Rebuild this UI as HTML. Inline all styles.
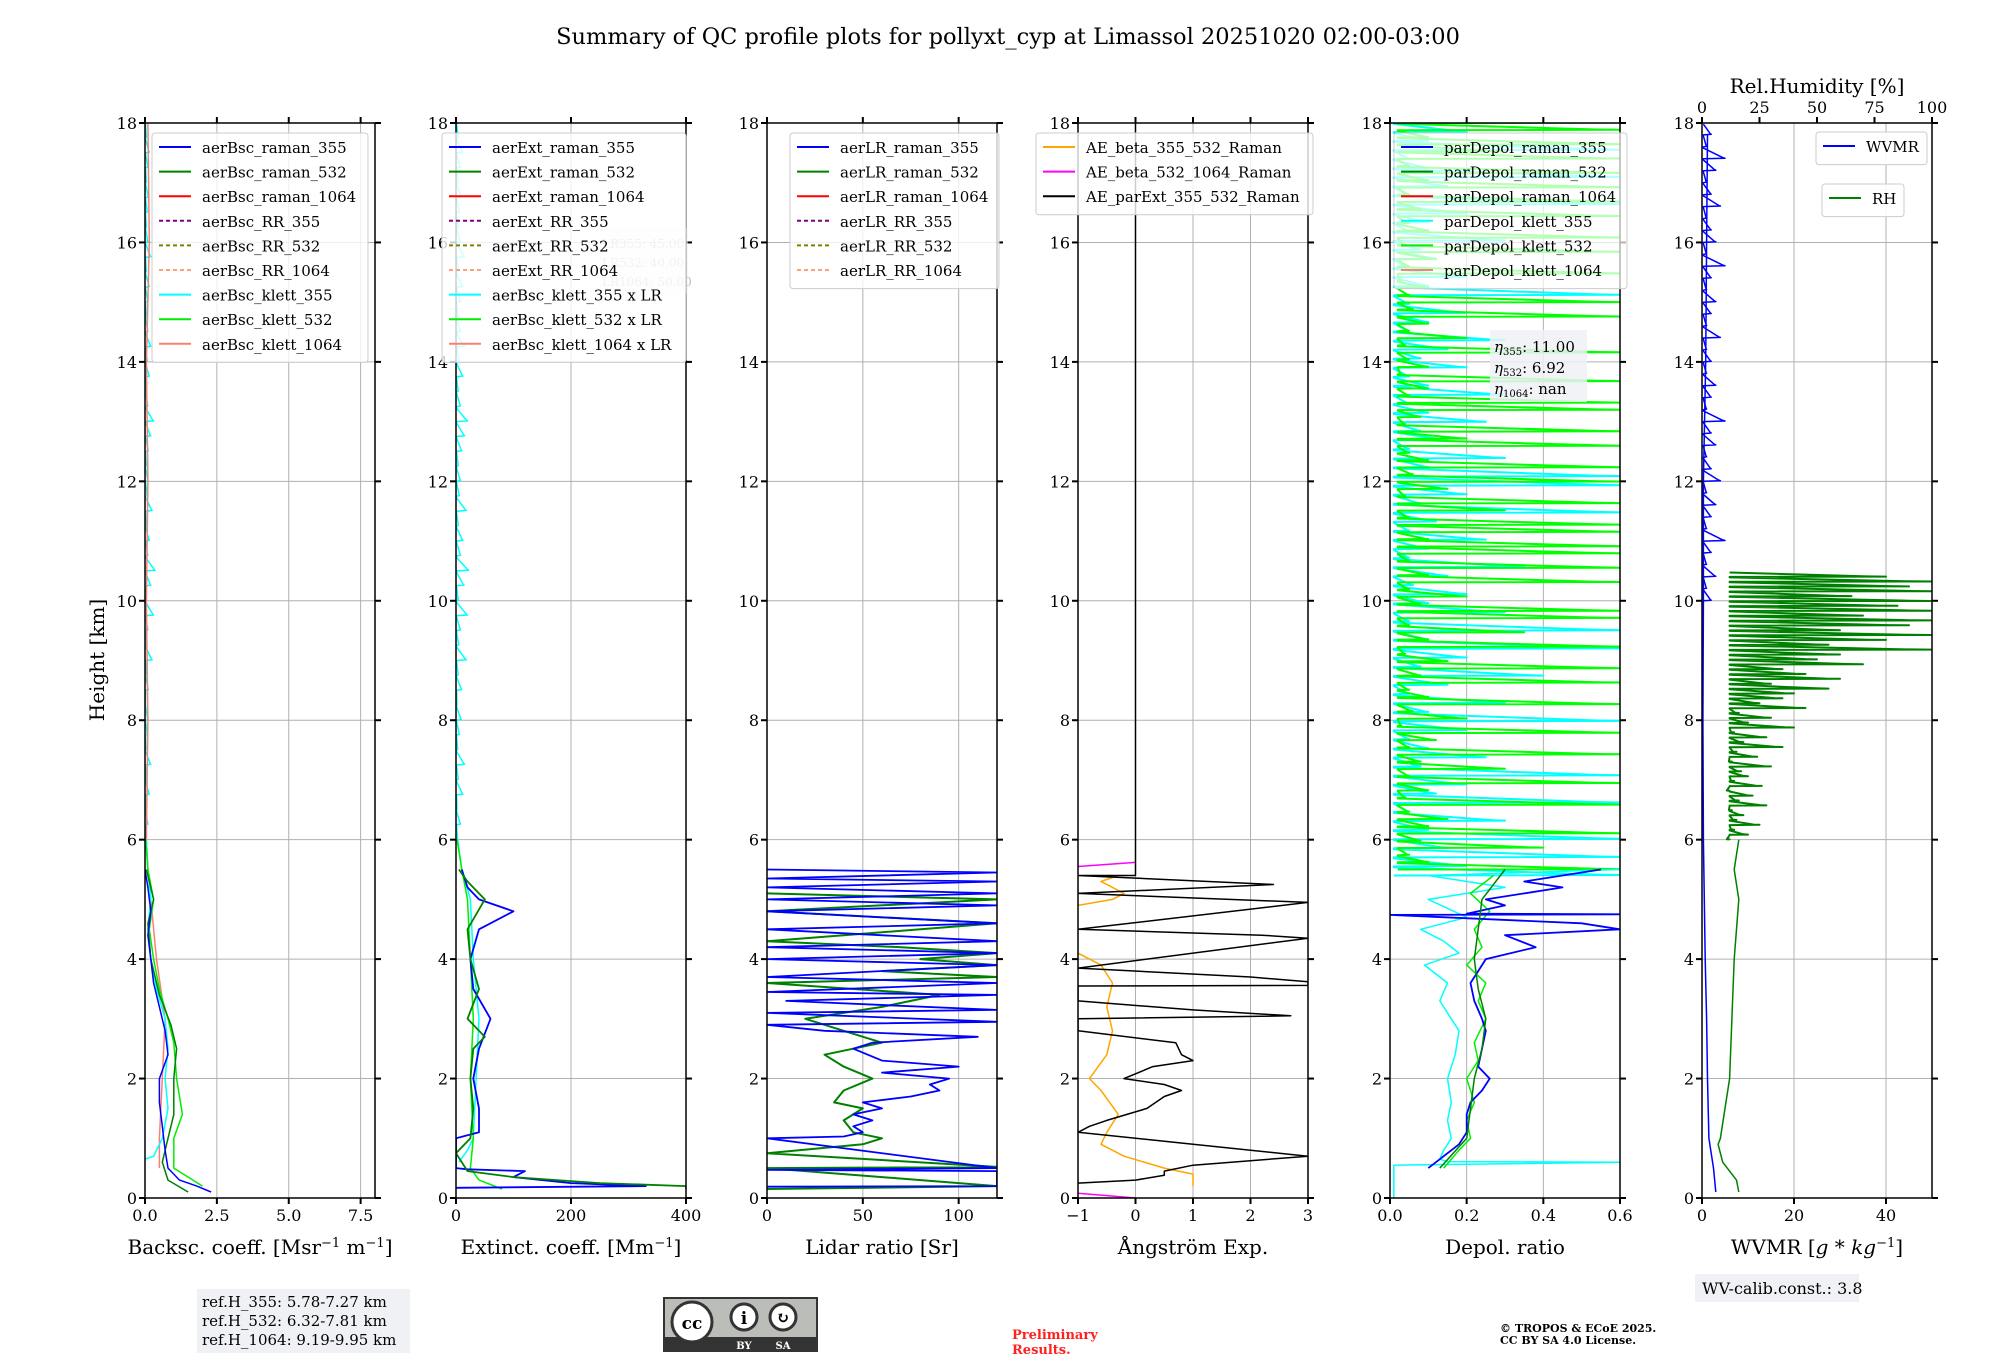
<!DOCTYPE html>
<html><head><meta charset="utf-8"><style>
body{margin:0;background:#fff;}
svg text{font-family:"DejaVu Serif","Liberation Serif",serif;}
</style></head><body>
<svg id="fig" width="2000" height="1360" xmlns="http://www.w3.org/2000/svg">
<rect width="2000" height="1360" fill="#fff"/>
<text x="1008" y="44" font-size="22.5" text-anchor="middle">Summary of QC profile plots for pollyxt_cyp at Limassol 20251020 02:00-03:00</text>
<text transform="translate(104,660) rotate(-90)" font-size="20" text-anchor="middle">Height [km]</text>
<g id="plots"></g>
<g>
<rect x="197" y="1289" width="213" height="64" fill="#eff1f5"/>
<text x="202" y="1307" font-size="15">ref.H_355: 5.78-7.27 km</text>
<text x="202" y="1326" font-size="15">ref.H_532: 6.32-7.81 km</text>
<text x="202" y="1345" font-size="15">ref.H_1064: 9.19-9.95 km</text>
</g>
<g>
<rect x="663" y="1297" width="155" height="55" fill="#333"/>
<rect x="665" y="1299" width="151" height="38" fill="#bbbdb8"/>
<circle cx="692" cy="1322" r="20" fill="#fff" stroke="#333" stroke-width="3"/>
<text x="692" y="1329" font-size="17" font-weight="bold" text-anchor="middle" font-family="Liberation Sans">cc</text>
<circle cx="744" cy="1317" r="13" fill="#fff" stroke="#333" stroke-width="3"/>
<circle cx="783" cy="1317" r="13" fill="#fff" stroke="#333" stroke-width="3"/>
<text x="744" y="1324" font-size="17" font-weight="bold" text-anchor="middle" font-family="Liberation Sans">i</text>
<text x="783" y="1323" font-size="16" font-weight="bold" text-anchor="middle" font-family="Liberation Sans">↻</text>
<text x="744" y="1349" font-size="10" fill="#fff" text-anchor="middle" font-family="Liberation Sans" font-weight="bold">BY</text>
<text x="783" y="1349" font-size="10" fill="#fff" text-anchor="middle" font-family="Liberation Sans" font-weight="bold">SA</text>
</g>
<text x="1012" y="1339" font-size="13" font-weight="bold" fill="#ff2020">Preliminary</text>
<text x="1012" y="1354" font-size="13" font-weight="bold" fill="#ff2020">Results.</text>
<text x="1500" y="1332" font-size="11" font-weight="bold">© TROPOS &amp; ECoE 2025.</text>
<text x="1500" y="1344" font-size="11" font-weight="bold">CC BY SA 4.0 License.</text>
<g>
<rect x="1695" y="1274" width="164" height="28" fill="#eff1f5"/>
<text x="1702" y="1294" font-size="16">WV-calib.const.: 3.8</text>
</g>
</svg>
<script>
// ---------- DATA ----------
const yTicks=[0,2,4,6,8,10,12,14,16,18];
const bscTicks=[0,2.5,5,7.5], bscTickLabels=["0.0","2.5","5.0","7.5"];
const extTicks=[0,200,400];
const lrTicks=[0,50,100];
const aeTicks=[-1,0,1,2,3], aeTickLabels=["−1","0","1","2","3"];
const depTicks=[0,0.2,0.4,0.6], depTickLabels=["0.0","0.2","0.4","0.6"];
const wvTicks=[0,20,40];
const rhTicks=[0,25,50,75,100];

// panel 1 backscatter
const bsc355H=[0.1,0.2,0.3,0.5,0.8,1.2,1.6,2.0,2.4,2.8,3.2,3.6,4.0,4.4,4.8,5.2,5.5];
const bsc355V=[2.3,1.8,1.2,0.8,0.7,0.6,0.5,0.5,0.8,0.7,0.5,0.3,0.2,0.1,0.2,0.1,0.0];
const bsc532H=[0.1,0.3,0.6,1.0,1.4,2.0,2.5,2.9,3.4,4.0,4.6,5.0,5.5];
const bsc532V=[1.5,0.8,0.6,0.8,1.0,1.0,1.1,0.9,0.5,0.2,0.1,0.3,0.05];
const bscK532H=[0.2,0.5,1.0,1.4,2.0,2.6,3.0,3.5,4.0,4.5,5.0,5.5,6.0];
const bscK532V=[2.0,1.0,1.0,1.3,1.1,1.0,0.8,0.5,0.3,0.15,0.3,0.1,0.02];
const bscK355H=[0.6,0.7,1.0,1.5,2.0,2.5,3.0,3.5,4.0,4.5,5.0,5.5,6.0];
const bscK355V=[-0.3,0.3,0.6,0.8,0.7,0.8,0.7,0.4,0.2,0.1,0.2,0.1,0.05];
const bscK1064H=[0.5,1.0,2.0,3.0,4.0,5.0,5.5,6,8,10,12,14,16,18];
const bscK1064V=[0.5,0.5,0.6,0.7,0.4,0.2,0.1,0.05,0.1,0.05,0.1,0.05,0.15,0.1];
const bscK355Noise=[0.05,0.1,0.03,0.15,0.05,0.2,0.04,0.08,0.1,0.02,0.12,0.05,0.25,0.06,0.1,0.3,0.05,0.2,0.35,0.1,0.15,0.05,0.25,0.08,0.1,0.05,0.12,0.2,0.3,0.1,0.05,0.15,0.08,0.2,0.1,0.05,0.1,0.15,0.05,0.2,0.1,0.05,0.08,0.12,0.05,0.1,0.15,0.05,0.1];

// panel 2 extinction
const ext355H=[0.17,0.2,0.25,0.35,0.45,0.48,0.5,1.0,1.1,1.5,2.0,2.5,3.0,3.5,4.0,4.5,4.8,5.0,5.2,5.5];
const ext355V=[0,330,200,100,120,20,0,0,40,40,30,40,60,30,25,40,100,40,20,10];
const ext532H=[0.15,0.2,0.25,0.35,0.45,0.75,1.0,1.5,2.0,2.5,2.7,3.0,3.5,4.0,4.5,5.0,5.3,5.5];
const ext532V=[400,400,250,100,20,0,25,30,25,30,50,20,40,25,20,50,20,5];
const extK532H=[0.15,0.3,0.5,1.0,2.0,3.0,4.0,5.0,5.5,6.0];
const extK532V=[80,40,25,30,25,30,25,20,10,2];
const extK355H=[0.6,0.8,1.0,2.0,3.0,4.0,5.0,5.5,6.0];
const extK355V=[5,20,30,35,40,30,25,10,3];
const extK355Noise=[3,8,2,12,4,15,3,6,9,2,10,4,18,5,8,20,4,14,22,8,12,4,18,6,8,4,10,15,20,8,4,12,6,15,8,4,8,12,4,15,8,4,6,10,4,8,12,4,8];

// panel 3 lidar ratio
const lr355H=[0.19,0.2,0.45,0.47,0.5,1.0,1.03,1.1,1.2,1.3,1.4,1.5,1.6,1.7,1.8,1.9,2.0,2.1,2.2,2.3,2.5,2.6,2.7,2.8,2.9,2.95,3.1,3.15,3.3,3.4,3.45,3.6,3.7,3.9,4.0,4.1,4.2,4.3,4.5,4.6,4.8,4.9,5.0,5.1,5.2,5.3,5.35,5.45,5.5];
const lr355V=[0,120,120,0,120,0,40,50,45,55,45,60,50,75,90,85,95,60,100,60,45,55,110,30,0,120,0,120,10,120,0,120,0,120,0,120,0,120,0,120,0,120,0,120,0,120,0,120,0];
const lr532H=[0.15,0.2,0.5,0.52,0.75,0.9,1.0,1.1,1.3,1.5,1.6,1.8,2.0,2.2,2.4,2.6,2.8,3.0,3.2,3.4,3.6,3.7,3.8,3.9,4.0,4.1,4.2,4.3,4.6,4.8,5.0,5.1];
const lr532V=[0,120,0,120,0,50,60,45,40,50,35,40,55,40,30,60,40,20,60,90,0,120,60,120,80,120,70,0,120,0,120,0];

// panel 4 angstrom
const aeBetaH=[0.2,0.4,0.5,0.7,0.9,1.1,1.4,1.8,2.0,2.4,2.8,3.2,3.6,3.9,4.0,4.1];
const aeBetaV=[1.0,1.0,0.5,-0.2,-0.6,-0.5,-0.3,-0.6,-0.8,-0.5,-0.4,-0.5,-0.4,-0.6,-0.8,-1.0];
const aeBeta2H=[4.9,5.0,5.1,5.2,5.3,5.4];
const aeBeta2V=[-1.0,-0.4,-0.2,-0.4,-0.6,-0.3];
const aeB1064H=[0.08,0.0];
const aeB1064V=[-1,0];
const aeB1064bH=[5.55,5.62];
const aeB1064bV=[-1,0];
const aeExtH=[0.25,0.3,0.38,0.45,0.55,0.7,1.1,1.2,1.3,1.5,1.7,1.8,1.9,2.0,2.2,2.3,2.4,2.6,2.8,3.0,3.05,3.15,3.3,3.55,3.56,3.62,3.7,3.85,4.35,4.4,4.5,4.95,5.1,5.25,5.4,5.4,18];
const aeExtV=[-1,0,0.5,0.5,1.0,3.0,-1,-0.8,-0.5,0.2,0.5,0.8,0.5,-0.2,0.3,1.0,0.8,0.7,-1,-1,2.7,1.0,-1,-1,3,3,2.0,-1,3,2.2,-1,3,-1,2.4,-1,0,0];

// panel 5 depolarization
const dep355H=[0.5,0.7,0.9,1.1,1.4,1.6,1.8,2.0,2.2,2.5,2.8,3.0,3.3,3.6,3.8,4.0,4.2,4.4,4.5,4.6,4.74,4.75,4.76,4.9,5.0,5.2,5.3,5.5];
const dep355V=[0.1,0.14,0.18,0.2,0.2,0.21,0.24,0.26,0.23,0.24,0.25,0.24,0.22,0.21,0.23,0.25,0.38,0.3,0.6,0.5,0.0,0.6,0.2,0.3,0.25,0.45,0.35,0.55];
const dep532H=[0.5,1.0,1.5,2.0,2.5,3.0,3.5,4.0,4.5,5.0,5.5];
const dep532V=[0.13,0.2,0.21,0.22,0.24,0.25,0.23,0.22,0.23,0.24,0.3];
const depK532H=[0.5,0.8,1.0,1.3,1.6,2.0,2.3,2.6,3.0,3.3,3.6,3.9,4.2,4.5,4.8,5.1,5.4];
const depK532V=[0.14,0.18,0.21,0.2,0.22,0.2,0.23,0.22,0.25,0.23,0.25,0.2,0.24,0.22,0.26,0.21,0.27];
const depK355H=[0.0,0.55,0.6,0.61,0.65,0.8,1.0,1.3,1.6,2.0,2.4,2.8,3.0,3.3,3.6,3.9,4.1,4.3,4.5,4.7,5.0,5.2,5.4,5.5];
const depK355V=[0.01,0.01,0.6,0.15,0.13,0.14,0.16,0.15,0.16,0.15,0.17,0.18,0.16,0.13,0.15,0.09,0.18,0.14,0.08,0.2,0.1,0.3,0.1,0.6];
const depK532Spikes=[0.6,0.1,0.05,0.4,0.08,0.6,0.1,0.15,0.05,0.6,0.04,0.1,0.6,0.05,0.3,0.08,0.6,0.05,0.12,0.6,0.03,0.2,0.06,0.6,0.1,0.05,0.6,0.08,0.6,0.15,0.04,0.6,0.1,0.35,0.05,0.6,0.6,0.08,0.2,0.05,0.6,0.1,0.6,0.05,0.6,0.6,0.1,0.6,0.6,0.05,0.3,0.6,0.04,0.15,0.6,0.06,0.6,0.1,0.05,0.6,0.2,0.6,0.04,0.08,0.6,0.6,0.05,0.1,0.6,0.03,0.1,0.05,0.6,0.04,0.2,0.05,0.1,0.6,0.06,0.6,0.05,0.1,0.03,0.6,0.05,0.12,0.6,0.04,0.6,0.1,0.05,0.6,0.08,0.6,0.05,0.6,0.1,0.6,0.05,0.6,0.3,0.6,0.1,0.6,0.6];
const depK355Spikes=[0.6,0.2,0.6,0.15,0.6,0.1,0.3,0.05,0.6,0.12,0.2,0.6,0.08,0.25,0.1,0.05,0.2,0.6,0.1,0.3,0.05,0.15,0.4,0.08,0.2,0.6,0.1,0.6,0.05,0.3,0.1,0.2,0.06,0.15,0.35,0.05,0.1,0.25,0.05,0.12,0.6,0.08,0.2,0.6,0.6,0.1,0.3,0.05,0.15,0.08,0.25,0.1,0.05,0.3,0.1,0.05,0.2,0.08,0.15,0.3,0.05,0.1,0.2,0.05,0.6,0.1,0.2,0.05,0.12,0.08,0.3,0.05,0.1,0.2,0.6,0.05,0.15,0.6,0.1,0.05,0.6,0.1,0.2,0.6];

// panel 6 water vapour
const wvH=[0.1,0.5,1.0,2.0,3.0,4.0,5.0,6.0,8.0,10.0,12.0,14.0,16.0,17.8];
const wvV=[3.0,2.5,1.5,1.2,1.0,0.7,0.5,0.3,0.2,0.3,0.3,0.8,1.0,1.2];
const wvSpikes=[2,1,3,1,2,5,1,2,3,1,4,2,1,3,2,5,1,2,3,1,2,1,4,1,2,3,1,2,5,1,3,2,1,4,2,1,3,5,1,2];
const rhH=[0.1,0.3,0.6,0.9,1.0,1.5,2.0,3.0,4.0,4.5,5.0,5.5,6.0];
const rhV=[16,15,9,7,8,10,12,13,14,15,16,14,16];
const rhSpikes=[12,20,14,25,15,18,13,28,16,22,12,26,14,20,17,30,13,24,15,35,18,28,14,40,20,30,16,45,25,35,40,55,30,60,45,35,70,50,60,100,55,80,100,60,90,100,70,100,85,100,65,100,90,100,80];

// ---------- DRAWING ----------
const NS="http://www.w3.org/2000/svg";
const TOP=123, BOT=1198, PW=230;
const plots=document.getElementById('plots');
function el(tag,attrs,parent){const e=document.createElementNS(NS,tag);for(const k in attrs)e.setAttribute(k,attrs[k]);(parent||plots).appendChild(e);return e;}
function yS(h){return BOT-(h/18)*(BOT-TOP);}
function makeX(left,min,max){return v=>left+(v-min)/(max-min)*PW;}

function panel(idx,left,min,max,ticks){
  const g=el('g',{});
  
  
  const xs=makeX(left,min,max);
  ticks.forEach(t=>{const gl=el('line',{x1:xs(t),x2:xs(t),y1:TOP,y2:BOT,stroke:'#b0b0b0','stroke-width':1},g);});
  yTicks.forEach(t=>{const gl=el('line',{x1:left,x2:left+PW,y1:yS(t),y2:yS(t),stroke:'#b0b0b0','stroke-width':1},g);});
  return {g,xs};
}
function frame(p,left,min,max,ticks,labels,xlabel,topTicks){
  const g=p.g,xs=p.xs;
  const r=el('rect',{x:left,y:TOP,width:PW,height:BOT-TOP,fill:'none',stroke:'#000','stroke-width':1.5},g);
  
  ticks.forEach((t,i)=>{
    el('line',{x1:xs(t),x2:xs(t),y1:BOT,y2:BOT+6,stroke:'#000','stroke-width':2},g);
    if(!topTicks) el('line',{x1:xs(t),x2:xs(t),y1:TOP,y2:TOP-6,stroke:'#000','stroke-width':2},g);
    const tl=el('text',{x:xs(t),y:BOT+23,'font-size':16,'text-anchor':'middle'},g);
    tl.textContent=labels[i];
    
  });
  yTicks.forEach(t=>{
    el('line',{x1:left-6,x2:left,y1:yS(t),y2:yS(t),stroke:'#000','stroke-width':2},g);
    el('line',{x1:left+PW,x2:left+PW+6,y1:yS(t),y2:yS(t),stroke:'#000','stroke-width':2},g);
    const tl=el('text',{x:left-8,y:yS(t)+6,'font-size':16,'text-anchor':'end'},g);
    tl.textContent=String(t);
    
  });
  const xl=el('text',{x:left+PW/2,y:BOT+56,'font-size':20,'text-anchor':'middle'},g);
  xl.innerHTML=xlabel;
  
}
function series(p,name,hs,vs,color,w,dash){
  const pts=hs.map((h,i)=>p.xs(vs[i]).toFixed(1)+','+yS(h).toFixed(1)).join(' ');
  const pl=el('polyline',{points:pts,fill:'none',stroke:color,'stroke-width':w||1.5,'stroke-linejoin':'round'},p.g);
  if(dash) pl.setAttribute('stroke-dasharray',dash);
  
  
}
function spikes(p,name,start,end,vals,base,color,w){
  const dz=(end-start)/(vals.length-1);
  const hs=[],vs=[];
  vals.forEach((v,i)=>{const h=start+i*dz;hs.push(h,h+dz*0.05,h+dz*0.1,h+dz*0.9);vs.push(base,v,v*0.9,base);});
  series(p,name,hs,vs,color,w);
}
function clip(p,left){
  const id='clip'+left;
  const cp=el('clipPath',{id:id},p.g);
  el('rect',{x:left,y:TOP,width:PW,height:BOT-TOP},cp);
  const gg=el('g',{'clip-path':'url(#'+id+')'},p.g);
  return {g:gg,xs:p.xs};
}
function legend(x,y,w,entries,opacity,rowH){
  const g=el('g',{});
  
  
  rowH=rowH||24.6;
  el('rect',{x:x,y:y,width:w,height:entries.length*rowH+8,rx:3,fill:'#fff','fill-opacity':opacity,stroke:'#ccc','stroke-width':1},g);
  entries.forEach((e,i)=>{
    const cy=y+14+i*rowH;
    const ln=el('line',{x1:x+7,x2:x+39,y1:cy,y2:cy,stroke:e[1],'stroke-width':2},g);
    if(e[2]) ln.setAttribute('stroke-dasharray','4,3');
    const t=el('text',{x:x+50,y:cy+6,'font-size':15},g);
    t.textContent=e[0];
    
    
  });
}

// Panel 1
let L=[145,456,767,1078,1390,1702];
let P=panel(1,L[0],0,8,bscTicks);
let C=clip(P,L[0]);
spikes(C,'bsc-klett-355-noise',6,18,bscK355Noise,0.02,'#00ffff',1.5);
series(C,'bsc-klett-1064',bscK1064H,bscK1064V,'#fa8072',1.5);
series(C,'bsc-klett-355',bscK355H,bscK355V,'#00ffff',1.5);
series(C,'bsc-klett-532',bscK532H,bscK532V,'#00ee00',1.5);
series(C,'bsc-raman-532',bsc532H,bsc532V,'#008000',1.5);
series(C,'bsc-raman-355',bsc355H,bsc355V,'#0000ff',1.5);
frame(P,L[0],0,8,bscTicks,bscTickLabels,'Backsc. coeff. [Msr<tspan dy="-7" font-size="13">−1</tspan><tspan dy="7"> m</tspan><tspan dy="-7" font-size="13">−1</tspan><tspan dy="7">]</tspan>');

// Panel 2
P=panel(2,L[1],0,400,extTicks);
C=clip(P,L[1]);
spikes(C,'ext-klett-355-noise',6,18,extK355Noise,1,'#00ffff',1.5);
series(C,'ext-klett-355',extK355H,extK355V,'#00ffff',1.5);
series(C,'ext-klett-532',extK532H,extK532V,'#00ee00',1.5);
series(C,'ext-raman-355',ext355H,ext355V,'#0000ff',1.8);
series(C,'ext-raman-532',ext532H,ext532V,'#008000',1.8);
frame(P,L[1],0,400,extTicks,extTicks.map(String),'Extinct. coeff. [Mm<tspan dy="-7" font-size="13">−1</tspan><tspan dy="7">]</tspan>');

// Panel 3
P=panel(3,L[2],0,120,lrTicks);
C=clip(P,L[2]);
series(C,'lr-raman-532',lr532H,lr532V,'#008000',2);
series(C,'lr-raman-355',lr355H,lr355V,'#0000ff',1.8);
frame(P,L[2],0,120,lrTicks,lrTicks.map(String),'Lidar ratio [Sr]');

// Panel 4
P=panel(4,L[3],-1,3,aeTicks);
C=clip(P,L[3]);
series(C,'ae-beta-355-532',aeBetaH,aeBetaV,'#ffa500',1.5);
series(C,'ae-beta-355-532-upper',aeBeta2H,aeBeta2V,'#ffa500',1.5);
series(C,'ae-beta-532-1064',aeB1064H,aeB1064V,'#ff00ff',1.5);
series(C,'ae-beta-532-1064-upper',aeB1064bH,aeB1064bV,'#ff00ff',1.5);
series(C,'ae-parext-355-532',aeExtH,aeExtV,'#000000',1.5);
frame(P,L[3],-1,3,aeTicks,aeTickLabels,'Ångström Exp.');

// Panel 5
P=panel(5,L[4],0,0.6,depTicks);
C=clip(P,L[4]);
spikes(C,'depol-klett-355-spikes',5.4,18,depK355Spikes,0.01,'#00ffff',2);
spikes(C,'depol-klett-532-spikes',5.5,18,depK532Spikes,0.02,'#00ff00',2);
series(C,'depol-klett-355',depK355H,depK355V,'#00ffff',1.5);
series(C,'depol-klett-532',depK532H,depK532V,'#00ee00',1.5);
series(C,'depol-raman-355',dep355H,dep355V,'#0000ff',1.8);
series(C,'depol-raman-532',dep532H,dep532V,'#008000',1.5);
frame(P,L[4],0,0.6,depTicks,depTickLabels,'Depol. ratio');

// Panel 6
P=panel(6,L[5],0,50,wvTicks);
C=clip(P,L[5]);
const rhP={g:C.g,xs:makeX(L[5],0,100)};
series(rhP,'rh-profile',rhH,rhV,'#008000',1.5);
spikes(rhP,'rh-spikes',6,10.4,rhSpikes,12,'#008000',2);
series(C,'wvmr-profile',wvH,wvV,'#0000ff',1.5);
spikes(C,'wvmr-spikes',10,17.8,wvSpikes,0.3,'#0000ff',1.5);
frame(P,L[5],0,50,wvTicks,wvTicks.map(String),'WVMR [<tspan font-style="italic">g</tspan> * <tspan font-style="italic">kg</tspan><tspan dy="-7" font-size="13">−1</tspan><tspan dy="7">]</tspan>',true);
rhTicks.forEach(t=>{
  const x=rhP.xs(t);
  el('line',{x1:x,x2:x,y1:TOP,y2:TOP-6,stroke:'#000','stroke-width':2},P.g);
  const tl=el('text',{x:x,y:TOP-10,'font-size':16,'text-anchor':'middle'},P.g);
  tl.textContent=String(t);
  
  
});
const rt=el('text',{x:L[5]+PW/2,y:93,'font-size':20,'text-anchor':'middle'},P.g);
rt.textContent='Rel.Humidity [%]';



// Legends
legend(152,133,216,[['aerBsc_raman_355','#0000ff'],['aerBsc_raman_532','#008000'],['aerBsc_raman_1064','#ff0000'],['aerBsc_RR_355','#800080',1],['aerBsc_RR_532','#808000',1],['aerBsc_RR_1064','#ffa07a',1],['aerBsc_klett_355','#00ffff'],['aerBsc_klett_532','#00ee00'],['aerBsc_klett_1064','#fa8072']],0.8);
const lrb=el('g',{});


el('rect',{x:598,y:228,width:90,height:66,fill:'#eff1f5','fill-opacity':0.5},lrb);
['LR355: 45.00','LR532: 40.00','LR1064: 50.00'].forEach((s,i)=>{const t=el('text',{x:602,y:248+i*19,'font-size':12,fill:'#bbb'},lrb);t.textContent=s;});
legend(442,133,244,[['aerExt_raman_355','#0000ff'],['aerExt_raman_532','#008000'],['aerExt_raman_1064','#ff0000'],['aerExt_RR_355','#800080',1],['aerExt_RR_532','#808000',1],['aerExt_RR_1064','#ffa07a',1],['aerBsc_klett_355 x LR','#00ffff'],['aerBsc_klett_532 x LR','#00ee00'],['aerBsc_klett_1064 x LR','#fa8072']],0.8);
legend(790,133,209,[['aerLR_raman_355','#0000ff'],['aerLR_raman_532','#008000'],['aerLR_raman_1064','#ff0000'],['aerLR_RR_355','#800080',1],['aerLR_RR_532','#808000',1],['aerLR_RR_1064','#ffa07a',1]],0.8);
legend(1036,133,277,[['AE_beta_355_532_Raman','#ffa500'],['AE_beta_532_1064_Raman','#ff00ff'],['AE_parExt_355_532_Raman','#000000']],0.8);
legend(1394,133,233,[['parDepol_raman_355','#0000ff'],['parDepol_raman_532','#008000'],['parDepol_raman_1064','#ff0000'],['parDepol_klett_355','#00ffff'],['parDepol_klett_532','#00ee00'],['parDepol_klett_1064','#fa8072']],0.7);
const eb=el('g',{});


el('rect',{x:1490,y:330,width:97,height:72,fill:'#eff1f5','fill-opacity':0.85},eb);
[['η','355',': 11.00'],['η','532',': 6.92'],['η','1064',': nan']].forEach((s,i)=>{
  const t=el('text',{x:1494,y:352+i*21,'font-size':15},eb);
  t.innerHTML='<tspan font-style="italic">'+s[0]+'</tspan><tspan font-size="10" dy="3">'+s[1]+'</tspan><tspan dy="-3">'+s[2]+'</tspan>';
});
legend(1816,132,111,[['WVMR','#0000ff']],0.9);
legend(1822,184,82,[['RH','#008000']],0.9);
</script>
</body></html>
